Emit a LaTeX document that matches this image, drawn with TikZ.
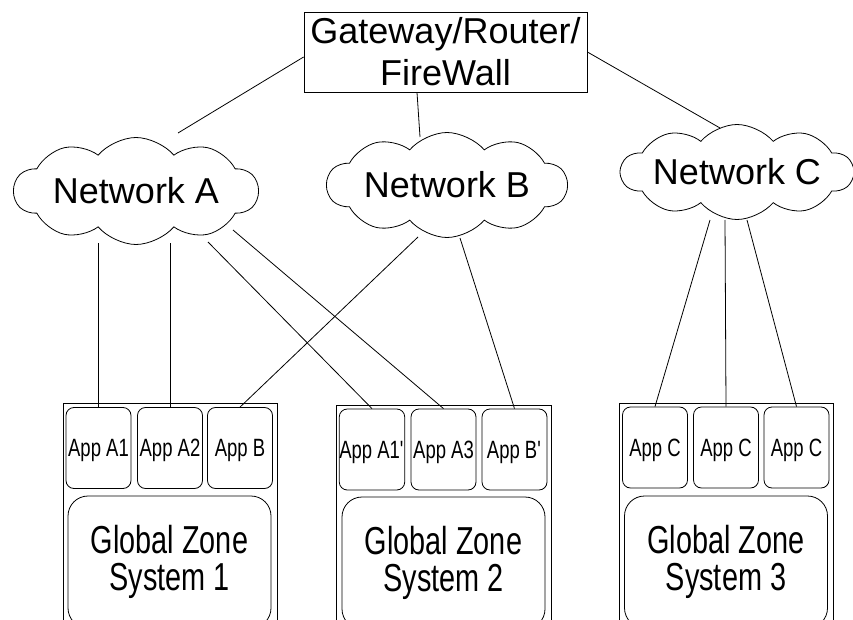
\documentclass[tikz,border=0pt]{standalone}
\usepackage{fontspec}
\setmainfont{Liberation Sans}
\newfontfamily\narrowfont[FakeStretch=0.74]{Liberation Sans}
\usetikzlibrary{shapes.symbols,calc}
\begin{document}
\begin{tikzpicture}[x=1pt,y=-1pt,
  box/.style={draw, line width=0.8pt, inner sep=0pt},
  gwbox/.style={box, minimum width=283pt, minimum height=80pt, align=center, font=\fontsize{36}{42}\selectfont},
  netcloud/.style={draw, line width=0.8pt, cloud, cloud puffs=10, cloud puff arc=100, cloud ignores aspect, inner sep=0pt, font=\fontsize{36}{42}\selectfont},
  appbox/.style={box, rounded corners=8pt, minimum width=65pt, minimum height=81pt, text depth=0pt, font=\narrowfont\fontsize{25}{28}\selectfont},
  zonebox/.style={box, rounded corners=20pt, minimum width=203pt, minimum height=132pt, align=center, font=\narrowfont\fontsize{39}{37}\selectfont},
  sysbox/.style={box, minimum width=214pt, minimum height=247pt},
  link/.style={line width=0.8pt}]
\useasboundingbox (0,0) rectangle (853,620);
\clip (0,0) rectangle (853,620);
% systems
\node[sysbox] (sys1) at (170,526.5) {};
\node[sysbox, minimum width=215pt] (sys2) at (443.5,528.5) {};
\node[sysbox] (sys3) at (726,526.5) {};
% zones
\node[zonebox] (z1) at (169.5,562) {Global Zone\\System 1};
\node[zonebox] (z2) at (443.5,563) {Global Zone\\System 2};
\node[zonebox] (z3) at (726,562) {Global Zone\\System 3};
% apps
\node[appbox] (a1) at (98.5,448) {App A1};
\node[appbox] (a2) at (170,448) {App A2};
\node[appbox] (ab) at (240,448) {App B};
\node[appbox] (b1) at (372,449.5) {App A1\textquotesingle};
\node[appbox] (b2) at (443.5,449.5) {App A3};
\node[appbox] (b3) at (514.5,449.5) {App B\textquotesingle};
\node[appbox] (c1) at (655,447.5) {App C};
\node[appbox] (c2) at (726,447.5) {App C};
\node[appbox] (c3) at (796.5,447.5) {App C};
% gateway
\node[gwbox] (gw) at (445.5,52) {Gateway/Router/\\FireWall};
% clouds
\node[netcloud, minimum width=244pt, minimum height=107pt] (cA) at (136,191) {Network A};
\node[netcloud, minimum width=240pt, minimum height=105pt] (cB) at (447,185) {Network B};
\node[netcloud, minimum width=232pt, minimum height=95pt] (cC) at (737,172) {Network C};
% links
\draw[link] ($(gw.west)+(0,5)$) -- ($(cA)+(42,-58)$);
\draw[link] ($(gw.south)+(-28.5,0)$) -- ($(cB)+(-27,-48)$);
\draw[link] (gw.east) -- ($(cC)+(-17,-44)$);
\draw[link] (a1.north) -- (a1.north |- {$(cA)+(0,52)$});
\draw[link] (a2.north) -- (a2.north |- {$(cA)+(0,52)$});
\draw[link] ($(cA)+(72,51)$) -- (b1.north);
\draw[link] ($(cA)+(97,39)$) -- (b2.north);
\draw[link] ($(cB)+(-29,52)$) -- (ab.north);
\draw[link] ($(cB)+(13,53)$) -- (b3.north);
\draw[link] ($(cC)+(-27,48)$) -- (c1.north);
\draw[link] ($(cC)+(-12,48)$) -- (c2.north);
\draw[link] ($(cC)+(10,48)$) -- (c3.north);
\end{tikzpicture}
\end{document}
